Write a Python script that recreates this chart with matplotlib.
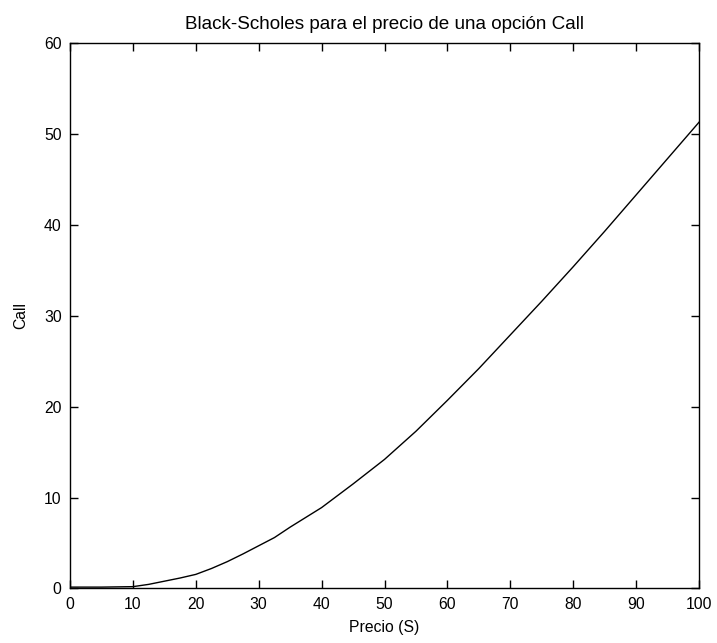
import matplotlib
matplotlib.use("Agg")
import matplotlib.pyplot as plt

# Precio del subyacente (S) y valor de la opción Call
precio = [0, 5, 10, 12.5, 15, 17.5, 20, 22.5, 25, 27.5, 30, 32.5, 35,
          40, 45, 50, 55, 60, 65, 70, 75, 80, 85, 90, 95, 100]
call = [0.15, 0.15, 0.2, 0.45, 0.8, 1.15, 1.55, 2.2, 2.95, 3.8, 4.7, 5.6, 6.75,
        8.9, 11.5, 14.2, 17.3, 20.7, 24.2, 27.9, 31.6, 35.4, 39.3, 43.3, 47.3, 51.3]

x_ticks = list(range(0, 101, 10))
y_ticks = list(range(0, 61, 10))

plt.rcParams["font.family"] = ["Liberation Sans", "DejaVu Sans"]
plt.rcParams["font.size"] = 11.3

fig = plt.figure(figsize=(7.17, 6.43), dpi=100)
ax = fig.add_axes([0.0976, 0.0848, 0.8774, 0.8482])

ax.plot(precio, call, color="black", linewidth=1.0)

ax.set_xlim(0, 100)
ax.set_ylim(0, 60)
ax.set_xticks(x_ticks)
ax.set_yticks(y_ticks)
ax.tick_params(direction="in", length=5.5, width=1, top=True, right=True)
ax.tick_params(axis="x", pad=6)
ax.tick_params(axis="y", pad=6)
for s in ax.spines.values():
    s.set_linewidth(1.0)

ax.set_title("Black-Scholes para el precio de una opción Call", pad=10)
ax.set_xlabel("Precio (S)", labelpad=6)
ax.set_ylabel("Call", labelpad=11)

fig.savefig("out.png", dpi=100)
